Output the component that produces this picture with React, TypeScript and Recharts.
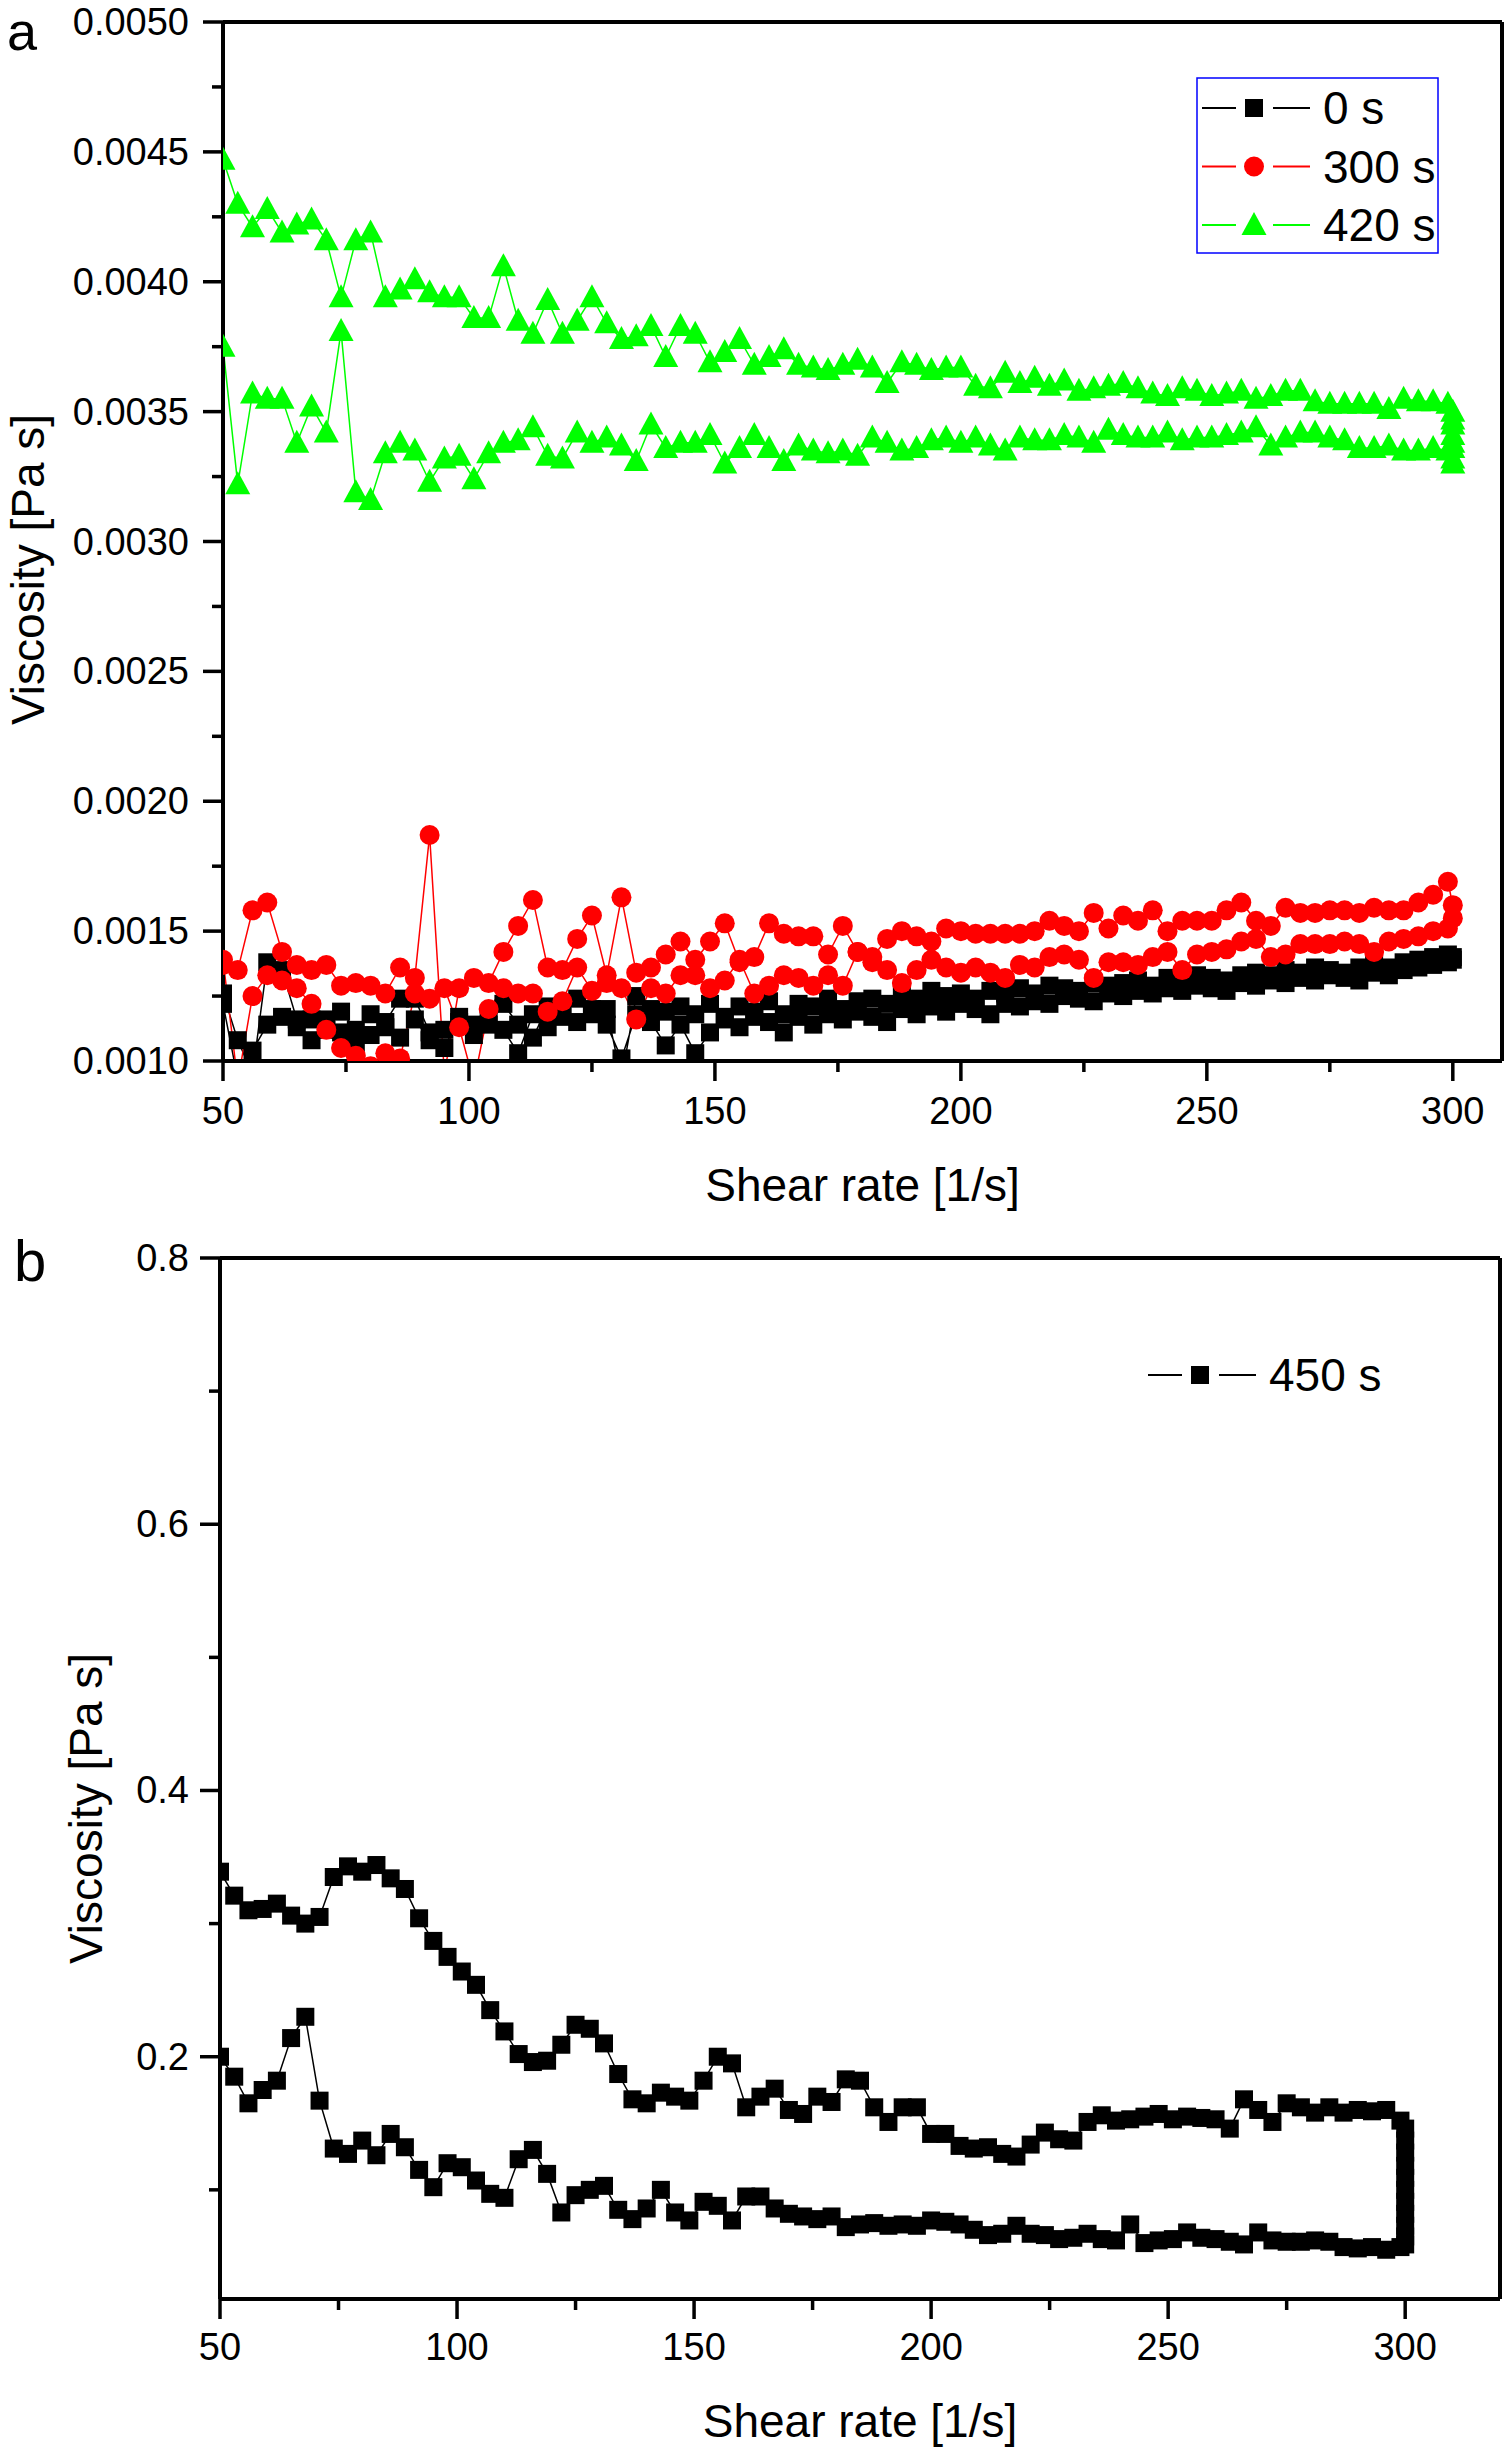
import React from 'react';
import { LineChart, Line, XAxis, YAxis, ReferenceLine } from 'recharts';

const FONT = '"Liberation Sans", Arial, sans-serif';

// shear rate sampling of each sweep (1/s)
const shearRate = [
  50, 53, 56, 59, 62, 65, 68, 71, 74, 77,
  80, 83, 86, 89, 92, 95, 98, 101, 104, 107,
  110, 113, 116, 119, 122, 125, 128, 131, 134, 137,
  140, 143, 146, 149, 152, 155, 158, 161, 164, 167,
  170, 173, 176, 179, 182, 185, 188, 191, 194, 197,
  200, 203, 206, 209, 212, 215, 218, 221, 224, 227,
  230, 233, 236, 239, 242, 245, 248, 251, 254, 257,
  260, 263, 266, 269, 272, 275, 278, 281, 284, 287,
  290, 293, 296, 299,
];
const holdRate = 300;

// panel a, 0 s
const black0Up = [
  0.00126, 0.00108, 0.00095, 0.00138, 0.00135, 0.00116, 0.00116, 0.00112, 0.00119, 0.00112,
  0.00118, 0.00115, 0.00124, 0.00124, 0.00111, 0.00105, 0.00117, 0.00114, 0.00114, 0.00122,
  0.00114, 0.00109, 0.00121, 0.00117, 0.00124, 0.0012, 0.0012, 0.00093, 0.00125, 0.0012,
  0.00119, 0.00121, 0.00118, 0.00122, 0.00117, 0.00121, 0.00119, 0.00123, 0.00118, 0.00122,
  0.00121, 0.00124, 0.0012, 0.00123, 0.00124, 0.00122, 0.00126, 0.00124, 0.00127, 0.00125,
  0.00126, 0.00124, 0.00127, 0.00126, 0.00128, 0.00126, 0.00129, 0.00128, 0.00127, 0.0013,
  0.00129, 0.0013, 0.00131, 0.00129, 0.00132, 0.00131, 0.00133, 0.00132, 0.00131, 0.00133,
  0.00134, 0.00133, 0.00135, 0.00134, 0.00136, 0.00135, 0.00134, 0.00136, 0.00137, 0.00136,
  0.00138, 0.00139, 0.0014, 0.00141,
];
const black0Hold = [0.0014, 0.00139];
const black0Down = [
  0.00122, 0.00093, 0.00104, 0.00114, 0.00117, 0.00113, 0.00108, 0.00116, 0.00111, 0.00107,
  0.0011, 0.00113, 0.00109, 0.00116, 0.00108, 0.00112, 0.00115, 0.0011, 0.00116, 0.00112,
  0.00103, 0.00118, 0.00113, 0.00119, 0.00115, 0.00118, 0.00114, 0.00101, 0.00118, 0.00115,
  0.00106, 0.00114, 0.00103, 0.00111, 0.00116, 0.00113, 0.00117, 0.00115, 0.00111, 0.00117,
  0.00114, 0.00118, 0.00116, 0.00119, 0.00117, 0.00115, 0.0012, 0.00118, 0.00121, 0.00119,
  0.00122, 0.0012, 0.00118, 0.00122, 0.00121, 0.00123, 0.00122, 0.00125, 0.00124, 0.00123,
  0.00126, 0.00125, 0.00127, 0.00126, 0.00128, 0.00127, 0.00129, 0.00128, 0.00127, 0.0013,
  0.00129, 0.00131, 0.0013, 0.00132, 0.00131, 0.00133, 0.00132, 0.00131, 0.00134, 0.00133,
  0.00135, 0.00136, 0.00137, 0.00138,
];

// panel a, 300 s
const red300Up = [
  0.00137, 0.00135, 0.00158, 0.00161, 0.00142, 0.00137, 0.00135, 0.00137, 0.00129, 0.0013,
  0.00129, 0.00126, 0.00136, 0.00132, 0.00187, 0.00095, 0.00128, 0.00132, 0.0013, 0.00142,
  0.00152, 0.00162, 0.00136, 0.00135, 0.00147, 0.00156, 0.00133, 0.00163, 0.00134, 0.00136,
  0.00141, 0.00146, 0.00139, 0.00146, 0.00153, 0.00138, 0.0014, 0.00153, 0.00149, 0.00148,
  0.00148, 0.00141, 0.00152, 0.00142, 0.0014, 0.00147, 0.0015, 0.00148, 0.00146, 0.00151,
  0.0015, 0.00149, 0.00149, 0.00149, 0.00149, 0.0015, 0.00154, 0.00152, 0.0015, 0.00157,
  0.00151, 0.00156, 0.00154, 0.00158, 0.0015, 0.00154, 0.00154, 0.00154, 0.00158, 0.00161,
  0.00154, 0.00152, 0.00159, 0.00157, 0.00157, 0.00158, 0.00158, 0.00157, 0.00159, 0.00158,
  0.00158, 0.00161, 0.00164, 0.00169,
];
const red300Hold = [0.0016, 0.00155];
const red300Down = [
  0.00139, 0.00092, 0.00125, 0.00133, 0.00131, 0.00128, 0.00122, 0.00112, 0.00105, 0.00102,
  0.00098, 0.00103, 0.00101, 0.00126, 0.00124, 0.00128, 0.00113, 0.00092, 0.0012, 0.00128,
  0.00126, 0.00126, 0.00119, 0.00123, 0.00136, 0.00127, 0.0013, 0.00128, 0.00116, 0.00128,
  0.00126, 0.00133, 0.00133, 0.00128, 0.00131, 0.00139, 0.00126, 0.00129, 0.00133, 0.00132,
  0.00129, 0.00133, 0.00129, 0.00142, 0.00138, 0.00135, 0.0013, 0.00135, 0.00139, 0.00136,
  0.00134, 0.00136, 0.00134, 0.00132, 0.00137, 0.00136, 0.0014, 0.00141, 0.00139, 0.00132,
  0.00138, 0.00138, 0.00137, 0.0014, 0.00142, 0.00135, 0.00141, 0.00142, 0.00143, 0.00146,
  0.00147, 0.0014, 0.00141, 0.00145, 0.00145, 0.00145, 0.00146, 0.00145, 0.00142, 0.00146,
  0.00147, 0.00148, 0.0015, 0.00151,
];

// panel a, 420 s
const green420Up = [
  0.00447, 0.0043, 0.00421, 0.00428, 0.00419, 0.00422, 0.00424, 0.00416, 0.00394, 0.00416,
  0.00419, 0.00394, 0.00397, 0.00401, 0.00396, 0.00394, 0.00394, 0.00386, 0.00386, 0.00406,
  0.00385, 0.0038, 0.00393, 0.0038, 0.00385, 0.00394, 0.00384, 0.00378, 0.00379, 0.00383,
  0.00371, 0.00383, 0.0038, 0.00369, 0.00373, 0.00378, 0.00368, 0.00371, 0.00374, 0.00368,
  0.00367, 0.00366, 0.00368, 0.0037, 0.00367, 0.00361, 0.00369, 0.00368, 0.00366, 0.00367,
  0.00367, 0.0036, 0.00359, 0.00365, 0.00361, 0.00363, 0.0036, 0.00362, 0.00358, 0.00359,
  0.0036, 0.00361, 0.00359, 0.00357, 0.00356, 0.00359, 0.00358, 0.00356, 0.00357, 0.00358,
  0.00355, 0.00356, 0.00358, 0.00358, 0.00354, 0.00353, 0.00353, 0.00353, 0.00353, 0.00351,
  0.00355, 0.00354, 0.00354, 0.00353,
];
const green420Hold = [0.0035, 0.00347, 0.00345, 0.00341, 0.00338, 0.00336, 0.00332, 0.0033];
const green420Down = [
  0.00375, 0.00322, 0.00357, 0.00355, 0.00355, 0.00338, 0.00352, 0.00342, 0.00381, 0.00319,
  0.00316, 0.00334, 0.00338, 0.00335, 0.00323, 0.00332, 0.00333, 0.00324, 0.00334, 0.00338,
  0.00339, 0.00344, 0.00333, 0.00332, 0.00342, 0.00338, 0.0034, 0.00337, 0.00331, 0.00345,
  0.00336, 0.00338, 0.00338, 0.00341, 0.0033, 0.00336, 0.00341, 0.00336, 0.00331, 0.00337,
  0.00335, 0.00334, 0.00335, 0.00333, 0.0034, 0.00338, 0.00335, 0.00336, 0.00339, 0.0034,
  0.00338, 0.0034, 0.00337, 0.00335, 0.0034, 0.00339, 0.00339, 0.00341, 0.0034, 0.00338,
  0.00343, 0.00341, 0.0034, 0.0034, 0.00342, 0.00339, 0.0034, 0.0034, 0.00341, 0.00342,
  0.00344, 0.00337, 0.0034, 0.00342, 0.00342, 0.0034, 0.00339, 0.00336, 0.00336, 0.00337,
  0.00335, 0.00335, 0.00336, 0.00335,
];

// panel b, 450 s
const black450Up = [
  0.339, 0.321, 0.31, 0.311, 0.315, 0.306, 0.3, 0.305, 0.335, 0.343,
  0.339, 0.344, 0.334, 0.326, 0.304, 0.287, 0.275, 0.264, 0.254, 0.235,
  0.219, 0.202, 0.196, 0.197, 0.209, 0.224, 0.221, 0.21, 0.187, 0.168,
  0.165, 0.173, 0.17, 0.167, 0.182, 0.2, 0.195, 0.162, 0.17, 0.176,
  0.16, 0.157, 0.17, 0.166, 0.183, 0.182, 0.162, 0.151, 0.162, 0.162,
  0.142, 0.142, 0.133, 0.131, 0.132, 0.127, 0.125, 0.134, 0.143, 0.138,
  0.137, 0.151, 0.156, 0.152, 0.153, 0.155, 0.157, 0.153, 0.155, 0.154,
  0.153, 0.146, 0.168, 0.16, 0.151, 0.165, 0.162, 0.158, 0.162, 0.158,
  0.16, 0.159, 0.16, 0.152,
];
const black450Hold = [0.146, 0.137, 0.128, 0.118, 0.109, 0.1, 0.091, 0.082, 0.073, 0.065, 0.059];
const black450Down = [
  0.2, 0.185, 0.165, 0.175, 0.182, 0.214, 0.23, 0.167, 0.131, 0.127,
  0.137, 0.126, 0.142, 0.132, 0.115, 0.102, 0.12, 0.117, 0.107, 0.097,
  0.094, 0.123, 0.13, 0.112, 0.083, 0.096, 0.1, 0.103, 0.085, 0.078,
  0.086, 0.1, 0.083, 0.077, 0.091, 0.088, 0.077, 0.095, 0.095, 0.086,
  0.082, 0.08, 0.078, 0.08, 0.072, 0.074, 0.075, 0.073, 0.074, 0.073,
  0.077, 0.076, 0.074, 0.07, 0.066, 0.067, 0.073, 0.067, 0.066, 0.063,
  0.064, 0.067, 0.063, 0.062, 0.074, 0.06, 0.062, 0.063, 0.068, 0.064,
  0.063, 0.061, 0.059, 0.068, 0.062, 0.061, 0.061, 0.062, 0.061, 0.057,
  0.056, 0.057, 0.055, 0.057,
];

// axis ticks (majors get labels, the rest are minor ticks)
const xTicks = [50, 75, 100, 125, 150, 175, 200, 225, 250, 275, 300];
const yTicksA = [
  0.001, 0.00125, 0.0015, 0.00175, 0.002, 0.00225, 0.0025, 0.00275, 0.003,
  0.00325, 0.0035, 0.00375, 0.004, 0.00425, 0.0045, 0.00475, 0.005,
];
const yTicksB = [0.1, 0.2, 0.3, 0.4, 0.5, 0.6, 0.7, 0.8];

const sweep = (up: number[], hold: number[], down: number[]) => [
  ...up.map((y, i) => ({ x: shearRate[i], y })),
  ...hold.map((y) => ({ x: holdRate, y })),
  ...down.map((y, i) => ({ x: shearRate[i], y })).reverse(),
];

const seriesA = [
  { name: '0 s', color: '#000000', shape: 'square', data: sweep(black0Up, black0Hold, black0Down) },
  { name: '300 s', color: '#ff0000', shape: 'circle', data: sweep(red300Up, red300Hold, red300Down) },
  { name: '420 s', color: '#00ff00', shape: 'triangle', data: sweep(green420Up, green420Hold, green420Down) },
];
const seriesB = [
  { name: '450 s', color: '#000000', shape: 'square', data: sweep(black450Up, black450Hold, black450Down) },
];

function Marker({ shape, cx, cy, color }: any) {
  if (cx == null || cy == null) return null;
  if (shape === 'square') return <rect x={cx - 9} y={cy - 9} width={18} height={18} fill={color} />;
  if (shape === 'circle') return <circle cx={cx} cy={cy} r={10} fill={color} />;
  return <polygon points={`${cx},${cy - 13} ${cx - 12.5},${cy + 10} ${cx + 12.5},${cy + 10}`} fill={color} />;
}

const isMultiple = (v: number, step: number) => Math.abs(v / step - Math.round(v / step)) < 1e-6;

const makeXTick = (dy: number) => (p: any) => {
  const major = isMultiple(p.payload.value, 50);
  return (
    <g key={`xt-${p.payload.value}`}>
      <line x1={p.x} x2={p.x} y1={p.y} y2={p.y + (major ? 20 : 11)} stroke="#000" strokeWidth={3.5} />
      {major && (
        <text x={p.x} y={p.y + dy} textAnchor="middle" dominantBaseline="central" fontSize={38} fontFamily={FONT} fill="#000">
          {p.payload.value}
        </text>
      )}
    </g>
  );
};

const makeYTick = (step: number, digits: number, gap: number) => (p: any) => {
  const major = isMultiple(p.payload.value, step);
  return (
    <g key={`yt-${p.payload.value}`}>
      <line x1={p.x - (major ? 20 : 11)} x2={p.x} y1={p.y} y2={p.y} stroke="#000" strokeWidth={3.5} />
      {major && (
        <text x={p.x - gap} y={p.y} textAnchor="end" dominantBaseline="central" fontSize={38} fontFamily={FONT} fill="#000">
          {p.payload.value.toFixed(digits)}
        </text>
      )}
    </g>
  );
};

const makeXLabel = (dy: number) => (props: any) => {
  const vb = props.viewBox || { x: 0, y: 0, width: 0, height: 0 };
  return (
    <text x={vb.x + vb.width / 2} y={vb.y + dy} textAnchor="middle" dominantBaseline="central" fontSize={46} fontFamily={FONT} fill="#000">
      Shear rate [1/s]
    </text>
  );
};

const makeYLabel = (dx: number, dy: number) => (props: any) => {
  const vb = props.viewBox || { x: 0, y: 0, width: 0, height: 0 };
  const cx = vb.x + dx;
  const cy = vb.y + vb.height / 2 + dy;
  return (
    <text x={cx} y={cy} transform={`rotate(-90 ${cx} ${cy})`} textAnchor="middle" dominantBaseline="central" fontSize={46} fontFamily={FONT} fill="#000">
      Viscosity [Pa s]
    </text>
  );
};

const renderSeries = (list: any[]) =>
  list.map((s) => (
    <Line
      key={s.name}
      name={s.name}
      data={s.data}
      dataKey="y"
      type="linear"
      stroke={s.color}
      strokeWidth={1.5}
      isAnimationActive={false}
      activeDot={false}
      dot={(p: any) => <Marker key={`${s.name}-${p.index}`} shape={s.shape} cx={p.cx} cy={p.cy} color={s.color} />}
    />
  ));

const axisLine = { stroke: '#000', strokeWidth: 4 };

function LegendRows({ items, x, y, rowGap }: any) {
  return (
    <g>
      {items.map((s: any, i: number) => {
        const cy = y + i * rowGap;
        return (
          <g key={s.name}>
            <line x1={x} x2={x + 34} y1={cy} y2={cy} stroke={s.color} strokeWidth={2} />
            <line x1={x + 71} x2={x + 108} y1={cy} y2={cy} stroke={s.color} strokeWidth={2} />
            <Marker shape={s.shape} cx={x + 52} cy={cy} color={s.color} />
            <text x={x + 121} y={cy} dominantBaseline="central" fontSize={46} fontFamily={FONT} fill="#000">
              {s.name}
            </text>
          </g>
        );
      })}
    </g>
  );
}

export default function App() {
  return (
    <div style={{ position: 'absolute', left: 0, top: 0, width: 1508, height: 2451, background: '#fff' }}>
      <div style={{ position: 'absolute', left: 0, top: 0 }}>
        <LineChart width={1508} height={1230} margin={{ top: 22, right: 6, bottom: 19, left: 23 }}>
          <XAxis
            type="number"
            dataKey="x"
            domain={[50, 310]}
            ticks={xTicks}
            interval={0}
            allowDataOverflow
            height={150}
            tickSize={0}
            tickMargin={0}
            tickLine={false}
            axisLine={axisLine}
            tick={makeXTick(50)}
            label={makeXLabel(124)}
          />
          <YAxis
            type="number"
            domain={[0.001, 0.005]}
            ticks={yTicksA}
            interval={0}
            allowDataOverflow
            width={200}
            tickSize={0}
            tickMargin={0}
            tickLine={false}
            axisLine={axisLine}
            tick={makeYTick(0.0005, 4, 34)}
            label={makeYLabel(5, 28)}
          />
          <ReferenceLine y={0.005} stroke="#000" strokeWidth={4} />
          <ReferenceLine x={310} stroke="#000" strokeWidth={4} />
          {renderSeries(seriesA)}
        </LineChart>
      </div>
      <div style={{ position: 'absolute', left: 0, top: 1230 }}>
        <LineChart width={1508} height={1221} margin={{ top: 28, right: 8, bottom: 12, left: 20 }}>
          <XAxis
            type="number"
            dataKey="x"
            domain={[50, 320]}
            ticks={xTicks}
            interval={0}
            allowDataOverflow
            height={140}
            tickSize={0}
            tickMargin={0}
            tickLine={false}
            axisLine={axisLine}
            tick={makeXTick(48)}
            label={makeXLabel(122)}
          />
          <YAxis
            type="number"
            domain={[0.018, 0.8]}
            ticks={yTicksB}
            interval={0}
            allowDataOverflow
            width={200}
            tickSize={0}
            tickMargin={0}
            tickLine={false}
            axisLine={axisLine}
            tick={makeYTick(0.2, 1, 31)}
            label={makeYLabel(66, 30)}
          />
          <ReferenceLine y={0.8} stroke="#000" strokeWidth={4} />
          <ReferenceLine x={320} stroke="#000" strokeWidth={4} />
          {renderSeries(seriesB)}
        </LineChart>
      </div>
      <svg width={1508} height={2451} style={{ position: 'absolute', left: 0, top: 0, pointerEvents: 'none' }}>
        <text x={7} y={50} fontSize={54} fontFamily={FONT} fill="#000">a</text>
        <text x={14} y={1281} fontSize={58} fontFamily={FONT} fill="#000">b</text>
        <rect x={1197} y={78} width={241} height={175} fill="#fff" stroke="#0000ff" strokeWidth={1.5} />
        <LegendRows items={seriesA} x={1202} y={108} rowGap={58.5} />
        <LegendRows items={seriesB} x={1148} y={1375} rowGap={58} />
      </svg>
    </div>
  );
}
